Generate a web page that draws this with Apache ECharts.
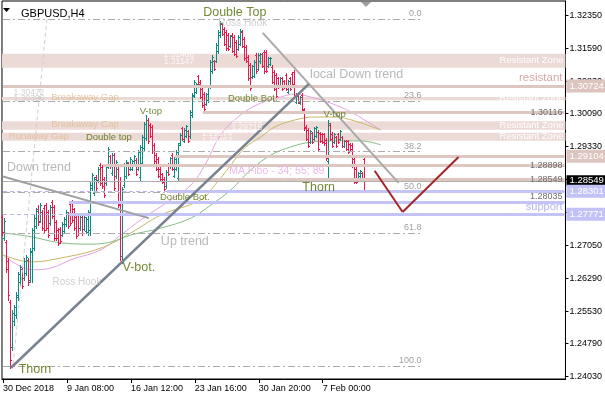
<!DOCTYPE html>
<html><head><meta charset="utf-8">
<script src="https://cdn.jsdelivr.net/npm/echarts@6/dist/echarts.min.js"></script>
<style>html,body{margin:0;padding:0;background:#fff}#c{width:605px;height:395px}</style>
</head><body><div id="c"></div>
<script>
// ---------- data ----------
const xTickIdx = [0, 32, 64, 96, 128, 160];
const xTickText = ['30 Dec 2018', '9 Jan 08:00', '16 Jan 12:00', '23 Jan 16:00', '30 Jan 20:00', '7 Feb 00:00'];
const yTicks = [1.32350, 1.31590, 1.30830, 1.30090, 1.29330, 1.28570, 1.27810, 1.27050, 1.26290, 1.25530, 1.24790, 1.24030];
const slotCount = 282; // bar slots on the time axis (chart shifted to the right)

// [open, close, low, high] per H4 bar
const ohlc = [
[1.2770,1.2735,1.2729,1.2775],[1.2722,1.2762,1.2718,1.2768],[1.2712,1.2650,1.2644,1.2718],[1.2670,1.2590,1.2579,1.2676],
[1.2575,1.2440,1.2423,1.2579],[1.2470,1.2550,1.2464,1.2556],[1.2530,1.2562,1.2522,1.2568],[1.2545,1.2590,1.2538,1.2598],
[1.2585,1.2638,1.2579,1.2644],[1.2620,1.2655,1.2614,1.2660],[1.2650,1.2612,1.2607,1.2653],[1.2630,1.2670,1.2626,1.2676],
[1.2642,1.2678,1.2637,1.2683],[1.2672,1.2620,1.2614,1.2676],[1.2625,1.2692,1.2621,1.2699],[1.2690,1.2740,1.2621,1.2745],
[1.2700,1.2768,1.2695,1.2775],[1.2750,1.2785,1.2745,1.2792],[1.2790,1.2758,1.2752,1.2798],[1.2762,1.2798,1.2759,1.2803],
[1.2782,1.2745,1.2741,1.2787],[1.2792,1.2740,1.2734,1.2798],[1.2798,1.2746,1.2741,1.2803],[1.2782,1.2730,1.2725,1.2787],
[1.2756,1.2794,1.2752,1.2798],[1.2805,1.2772,1.2768,1.2810],[1.2794,1.2722,1.2718,1.2798],[1.2760,1.2722,1.2718,1.2764],
[1.2740,1.2710,1.2706,1.2745],[1.2744,1.2715,1.2711,1.2748],[1.2730,1.2755,1.2727,1.2759],[1.2738,1.2766,1.2734,1.2771],
[1.2754,1.2782,1.2750,1.2787],[1.2778,1.2750,1.2745,1.2782],[1.2800,1.2756,1.2752,1.2805],[1.2806,1.2764,1.2759,1.2810],
[1.2788,1.2745,1.2741,1.2792],[1.2770,1.2726,1.2722,1.2775],[1.2776,1.2733,1.2729,1.2780],[1.2745,1.2770,1.2741,1.2775],
[1.2770,1.2734,1.2729,1.2775],[1.2744,1.2771,1.2741,1.2775],[1.2738,1.2767,1.2734,1.2771],[1.2735,1.2782,1.2729,1.2787],
[1.2740,1.2845,1.2729,1.2851],[1.2838,1.2868,1.2833,1.2872],[1.2826,1.2858,1.2821,1.2863],[1.2862,1.2838,1.2833,1.2867],
[1.2855,1.2882,1.2851,1.2886],[1.2890,1.2848,1.2844,1.2895],[1.2886,1.2842,1.2838,1.2890],[1.2858,1.2822,1.2817,1.2863],
[1.2848,1.2886,1.2844,1.2890],[1.2888,1.2928,1.2884,1.2932],[1.2910,1.2888,1.2884,1.2913],[1.2872,1.2914,1.2867,1.2918],
[1.2914,1.2838,1.2833,1.2918],[1.2865,1.2898,1.2861,1.2902],[1.2882,1.2798,1.2794,1.2886],[1.2800,1.2680,1.2672,1.2863],
[1.2680,1.2835,1.2665,1.2840],[1.2844,1.2890,1.2840,1.2895],[1.2866,1.2898,1.2861,1.2902],[1.2894,1.2870,1.2867,1.2897],
[1.2882,1.2905,1.2879,1.2909],[1.2882,1.2899,1.2879,1.2902],[1.2893,1.2910,1.2890,1.2913],[1.2903,1.2870,1.2867,1.2907],
[1.2882,1.2921,1.2879,1.2925],[1.2862,1.2932,1.2856,1.2937],[1.2895,1.2955,1.2890,1.2960],[1.2930,1.2984,1.2925,1.2989],
[1.2952,1.2995,1.2948,1.3006],[1.2994,1.2946,1.2941,1.2999],[1.2983,1.2958,1.2955,1.2987],[1.2978,1.2922,1.2918,1.2983],
[1.2937,1.2899,1.2895,1.2941],[1.2914,1.2882,1.2879,1.2918],[1.2905,1.2866,1.2863,1.2909],[1.2882,1.2859,1.2856,1.2886],
[1.2869,1.2852,1.2849,1.2872],[1.2859,1.2836,1.2833,1.2863],[1.2842,1.2875,1.2838,1.2879],[1.2891,1.2870,1.2867,1.2895],
[1.2887,1.2906,1.2884,1.2909],[1.2914,1.2882,1.2879,1.2918],[1.2866,1.2905,1.2863,1.2909],[1.2882,1.2921,1.2879,1.2925],
[1.2860,1.2937,1.2856,1.2941],[1.2940,1.2960,1.2937,1.2964],[1.2975,1.2951,1.2948,1.2978],[1.2946,1.2972,1.2943,1.2976],
[1.2958,1.2980,1.2955,1.2983],[1.2968,1.2946,1.2943,1.2971],[1.2957,1.3013,1.2953,1.3017],[1.3005,1.3052,1.3001,1.3056],
[1.3050,1.3082,1.3047,1.3086],[1.3059,1.3076,1.3056,1.3079],[1.3095,1.3078,1.3075,1.3098],[1.3082,1.3048,1.3045,1.3086],
[1.3066,1.3028,1.3024,1.3070],[1.3055,1.3020,1.3017,1.3058],[1.3032,1.3053,1.3029,1.3056],[1.3040,1.3071,1.3036,1.3075],
[1.3072,1.3128,1.3068,1.3132],[1.3106,1.3140,1.3102,1.3144],[1.3129,1.3112,1.3109,1.3132],[1.3131,1.3168,1.3128,1.3172],
[1.3153,1.3198,1.3149,1.3202],[1.3189,1.3218,1.3185,1.3222],[1.3215,1.3193,1.3190,1.3218],[1.3205,1.3170,1.3167,1.3208],
[1.3198,1.3159,1.3155,1.3202],[1.3191,1.3158,1.3155,1.3195],[1.3165,1.3187,1.3162,1.3190],[1.3191,1.3154,1.3151,1.3195],
[1.3186,1.3147,1.3144,1.3190],[1.3175,1.3142,1.3139,1.3179],[1.3158,1.3186,1.3155,1.3190],[1.3170,1.3200,1.3167,1.3204],
[1.3198,1.3165,1.3162,1.3202],[1.3181,1.3136,1.3132,1.3185],[1.3163,1.3131,1.3128,1.3167],[1.3140,1.3090,1.3086,1.3144],
[1.3122,1.3067,1.3063,1.3126],[1.3094,1.3118,1.3091,1.3121],[1.3096,1.3128,1.3093,1.3132],[1.3145,1.3106,1.3102,1.3149],
[1.3112,1.3145,1.3109,1.3149],[1.3129,1.3146,1.3126,1.3149],[1.3146,1.3119,1.3116,1.3149],[1.3151,1.3106,1.3102,1.3155],
[1.3151,1.3108,1.3105,1.3155],[1.3119,1.3136,1.3116,1.3139],[1.3123,1.3136,1.3121,1.3139],[1.3117,1.3082,1.3079,1.3121],
[1.3105,1.3066,1.3063,1.3109],[1.3098,1.3050,1.3047,1.3102],[1.3090,1.3071,1.3068,1.3093],[1.3073,1.3090,1.3070,1.3093],
[1.3090,1.3066,1.3063,1.3093],[1.3083,1.3071,1.3068,1.3086],[1.3098,1.3066,1.3063,1.3102],[1.3059,1.3083,1.3056,1.3086],
[1.3090,1.3066,1.3063,1.3093],[1.3101,1.3078,1.3075,1.3105],[1.3105,1.3050,1.3047,1.3109],[1.3036,1.3053,1.3033,1.3056],
[1.3049,1.3036,1.3033,1.3052],[1.3034,1.3046,1.3031,1.3049],[1.3052,1.3020,1.3017,1.3056],[1.3018,1.2975,1.2971,1.3022],
[1.2979,1.2951,1.2948,1.2983],[1.2972,1.2935,1.2932,1.2976],[1.2944,1.2968,1.2941,1.2971],[1.2963,1.2944,1.2941,1.2966],
[1.2951,1.2975,1.2948,1.2978],[1.2958,1.2977,1.2955,1.2980],[1.2967,1.2928,1.2925,1.2971],[1.2963,1.2946,1.2943,1.2966],
[1.2961,1.2944,1.2941,1.2964],[1.2961,1.2940,1.2937,1.2964],[1.2949,1.2906,1.2902,1.2953],[1.2900,1.2988,1.2856,1.2994],
[1.2983,1.2951,1.2948,1.2987],[1.2962,1.2935,1.2932,1.2966],[1.2944,1.2961,1.2941,1.2964],[1.2954,1.2935,1.2932,1.2957],
[1.2961,1.2944,1.2941,1.2964],[1.2951,1.2968,1.2948,1.2971],[1.2954,1.2935,1.2932,1.2957],[1.2935,1.2945,1.2932,1.2948],
[1.2945,1.2928,1.2925,1.2948],[1.2945,1.2921,1.2918,1.2948],[1.2938,1.2928,1.2925,1.2941],[1.2937,1.2889,1.2886,1.2941],
[1.2905,1.2852,1.2849,1.2909],[1.2882,1.2852,1.2849,1.2886],[1.2859,1.2871,1.2856,1.2874],[1.2866,1.2876,1.2863,1.2879],
[1.2871,1.2859,1.2856,1.2874],[1.2905,1.2855,1.2833,1.2909]
];

// moving averages (MA Fibo 34 / 55 / 89), read at sample bars: [barIndex, price]
const ma34 = [[0,1.2683],[15,1.2649],[24,1.2653],[34,1.2672],[49,1.2695],[59,1.2729],[69,1.2764],[84,1.2810],[94,1.2844],[101,1.2890],[109,1.2960],[119,1.3006],[129,1.3033],[139,1.3047],[146,1.3054],[154,1.3047],[164,1.3033],[174,1.3013],[181,1.2994],[189,1.2971]];
const ma55 = [[0,1.2683],[14,1.2667],[29,1.2676],[49,1.2699],[64,1.2734],[79,1.2775],[99,1.2810],[106,1.2844],[114,1.2890],[121,1.2930],[129,1.2955],[136,1.2978],[146,1.2994],[156,1.3001],[166,1.3001],[176,1.2992],[189,1.2971]];
const ma89 = [[0,1.2734],[14,1.2725],[29,1.2711],[44,1.2708],[54,1.2713],[64,1.2729],[79,1.2745],[94,1.2768],[104,1.2798],[114,1.2833],[124,1.2879],[134,1.2913],[144,1.2932],[154,1.2943],[166,1.2946],[179,1.2946],[189,1.2937]];

// resistance zones [upper, lower]
const zones = [[1.31468,1.31147],[1.30472,1.30396],[1.29915,1.29715],[1.29650,1.29462]];
// resistance lines [price, first bar index, right text]
const resistLines = [[1.30724,0,'resistant'],[1.30116,100,'1.30116'],[1.29104,86,''],[1.28898,50,'1.28898'],[1.28570,88,'1.28549']];
// support lines [price, first bar index, right text]
const supportLines = [[1.28301,82,''],[1.28035,33,'1.28035'],[1.27771,33,'support']];
const supportDashed = [1.28301,1.27771];
// price boxes on the axis [price, text, kind] (drawn in this order)
const axisBoxes = [[1.28540,'1.28549','bid'],[1.30724,'1.30724','r'],[1.29104,'1.29104','r'],[1.28301,'1.28301','s'],[1.27771,'1.27771','s']];
const bidPrice = 1.28520;
// Fibonacci retracement
const fibHigh = 1.3227, fibLow = 1.2427;
const fibLevels = [0, 23.6, 38.2, 50.0, 61.8, 100.0];
const fibEndBar = 210;
const fibAnchor = [[22,1.3227],[5,1.2427]];
// trend lines [[bar, price],[bar, price]]
const upTrend = [[4,1.2423],[153,1.3077]];
const localDownTrend = [[130,1.3195],[198,1.2849]];
const downTrend = [[0,1.2864],[73,1.2768]];
const projection = [[186,1.2877],[200,1.2782],[228,1.2909]];
// annotations [text, bar, price, kind]
const notes = [
 ['Double Top',116,1.3241,'patBig'],['Ross Hook',120,1.3218,'ross'],['local Down trend',177,1.3098,'trend'],
 ['Double Bot.',125,1.3043,'pat'],['V-top',74,1.3015,'pat'],['V-top',166,1.3008,'pat'],['Double top',53,1.2955,'pat'],
 ['Down trend',18,1.2884,'trend'],['MA Fibo - 34; 55; 89',137,1.2877,'ma'],['Thorn',158,1.2839,'patBig'],
 ['Double Bot.',91,1.2815,'pat'],['Up trend',91,1.2715,'trend'],['V-bot.',68,1.2653,'patBig'],['Ross Hook',37,1.2619,'ross'],
 ['Thorn',16,1.2418,'patBig'],
 ['Breakaway Gap',41,1.3047,'gap'],['Breakaway Gap',41,1.2985,'gap'],['Runaway Gap',18,1.2957,'gap'],
 ['1.31468',88,1.3144,'numW'],['1.31147',88,1.3128,'numW'],['1.30472',13,1.3058,'numG'],['1.30396',13,1.3043,'numG'],
 ['1.29915',122,1.2992,'numW'],['1.29715',122,1.2976,'numW'],['1.29574',107,1.2962,'numW'],['1.29462',107,1.2946,'numW']
];

// ---------- styling ----------
const FONT = 'Liberation Sans, Arial, sans-serif';
const UP = '#0a8a80', DOWN = '#e8194e';
const ZONE = '#ebdad6', RES = '#dfc7c1', SUP = '#c3c3f5';
const noteStyle = {
  patBig:{color:'#4f6c00',fontSize:12.5}, pat:{color:'#4f6c00',fontSize:9.5},
  ross:{color:'#c4c4c4',fontSize:10}, trend:{color:'#a6a6a6',fontSize:12.5},
  ma:{color:'#e7a9e7',fontSize:10.5}, gap:{color:'#e2bb93',fontSize:9.5},
  numW:{color:'#ffffff',fontSize:8.5}, numG:{color:'#c8c8c8',fontSize:8.5}
};

const categories = Array.from({length: slotCount}, (_, i) => String(i));
const barData = ohlc.map((d, i) => [i, d[0], d[1], d[2], d[3]]);
const lastBar = slotCount - 1;

const markLines = [];
// fib
fibLevels.forEach(lv => {
  const p = fibHigh - (fibHigh - fibLow) * lv / 100;
  markLines.push([{coord:[0,p], name: lv.toFixed(1),
    lineStyle:{color:'#ababab',width:1,type:[7,3,2,3]},
    label:{show:true,position:'insideEndTop',distance:1,formatter:'{b}',color:'#a0a0a0',fontSize:9,fontFamily:FONT}},
    {coord:[fibEndBar,p]}]);
});
markLines.push([{coord:fibAnchor[0],lineStyle:{color:'#cfcfcf',width:1,type:[4,3]},label:{show:false}},{coord:fibAnchor[1]}]);
// support dashed
supportDashed.forEach(p => markLines.push([{coord:[0,p],lineStyle:{color:'#b7b7ee',width:1,type:[4,3]},label:{show:false}},{coord:[lastBar,p]}]));
// resistance lines
resistLines.forEach(([p, from, t]) => markLines.push([{coord:[from,p], name:t,
  lineStyle:{color:RES,width:3,type:'solid'},
  label:{show: !!t, position: t==='resistant' ? 'insideEndTop' : 'insideEnd', distance:2, formatter:'{b}',
    color: t==='resistant' ? '#d6a7a7' : '#6e6e6e', fontSize: t==='resistant' ? 11.5 : 9, fontFamily:FONT}},
  {coord:[lastBar+0.49,p]}]));
// support lines
supportLines.forEach(([p, from, t]) => markLines.push([{coord:[from,p], name:t,
  lineStyle:{color:SUP,width:3,type:'solid'},
  label:{show: !!t, position:'insideEndTop', distance:2, formatter:'{b}',
    color: t==='support' ? '#b4b4f0' : '#6e6e6e', fontSize: t==='support' ? 11 : 9, fontFamily:FONT}},
  {coord:[lastBar+0.49,p]}]));
// bid line
markLines.push([{coord:[0,bidPrice],lineStyle:{color:'#b0b0b0',width:1,type:'solid'},label:{show:false}},{coord:[lastBar+0.49,bidPrice]}]);
// trend lines
const seg = (pts, color, width) => { for (let k = 0; k < pts.length - 1; k++) markLines.push([{coord:pts[k],lineStyle:{color,width,type:'solid'},label:{show:false}},{coord:pts[k+1]}]); };
seg(downTrend, '#a0a0a0', 2);
seg(localDownTrend, '#a9a9a9', 2);
seg(upTrend, '#78838f', 2.5);
seg(projection, '#a3262a', 2);

// axis price boxes (separate, unclipped)
const boxLines = axisBoxes.map(([p, t, k]) => [{coord:[lastBar-1,p], name:t,
  lineStyle:{width:1, color:'rgba(0,0,0,0)', type:'solid'},
  label:{show:true, position:'end', distance:2, formatter:'{b}', color:'#fff', fontSize:9.5, fontFamily:FONT,
    backgroundColor: k==='r' ? '#dcc4bf' : (k==='s' ? '#c2c2f6' : '#000'), padding: k==='bid' ? [1,4,0,3] : [2,4,1,3]}},
  {coord:[lastBar,p]}]);

const areas = zones.map(([a, b]) => [{yAxis:a, name:'Resistant Zone',
  label:{show:true, position:'insideRight', distance:2, formatter:'{b}', color:'#fff', fontSize:9.5, fontFamily:FONT}}, {yAxis:b}]);

const noteData = notes.map(([t, i, p, k]) => ({value:[i, p], label:{show:true, position:'inside', formatter:t,
  color: noteStyle[k].color, fontSize: noteStyle[k].fontSize, fontFamily:FONT}}));

const chart = echarts.init(document.getElementById('c'), null, {renderer:'canvas'});
chart.setOption({
  animation:false,
  backgroundColor:'#fff',
  title:{text:'GBPUSD,H4', left:16, top:3, textStyle:{fontSize:11, fontWeight:'normal', color:'#000', fontFamily:FONT}},
  graphic:[
    {type:'polygon', shape:{points:[[3,8],[10,8],[6.5,12]]}, style:{fill:'#000'}},
    {type:'polygon', shape:{points:[[361,2],[371,2],[366,7]]}, style:{fill:'#a0a0a0'}}
  ],
  grid:{left:1, right:39, top:1, bottom:16, show:true, borderColor:'#000', borderWidth:1, backgroundColor:'#fff'},
  xAxis:{type:'category', data:categories, boundaryGap:true,
    axisLine:{show:true, lineStyle:{color:'#000'}},
    axisTick:{show:true, alignWithLabel:true, length:4, lineStyle:{color:'#000'}, interval:(idx) => xTickIdx.includes(idx)},
    axisLabel:{show:true, interval:(idx) => xTickIdx.includes(idx), align:'left', margin:5,
      formatter:(v, idx) => xTickText[xTickIdx.indexOf(Number(v))] || '', color:'#000', fontSize:9, fontFamily:FONT},
    splitLine:{show:false}},
  yAxis:{type:'value', position:'right', min:1.23971, max:1.32684, scale:true,
    axisLine:{show:true, lineStyle:{color:'#000'}},
    axisTick:{show:true, length:3, lineStyle:{color:'#000'}, customValues:yTicks},
    axisLabel:{show:true, customValues:yTicks, formatter:(v) => v.toFixed(5), color:'#000', fontSize:9, fontFamily:FONT, margin:4},
    splitLine:{show:false}},
  series:[
    {type:'line', name:'zones', data:[], z:1, silent:true,
      markArea:{silent:true, itemStyle:{color:ZONE}, data:areas}},
    {type:'line', name:'MA34', data:ma34, smooth:0.4, symbol:'none', z:3, lineStyle:{color:'#e2a3e2', width:1}},
    {type:'line', name:'MA55', data:ma55, smooth:0.4, symbol:'none', z:3, lineStyle:{color:'#c6b864', width:1}},
    {type:'line', name:'MA89', data:ma89, smooth:0.4, symbol:'none', z:3, lineStyle:{color:'#86bd86', width:1}},
    {type:'custom', name:'bars', data:barData, z:4, encode:{x:0, y:[1,2,3,4]},
      renderItem:(params, api) => {
        const i = api.value(0);
        const o = api.value(1), c = api.value(2);
        const h = api.coord([i, api.value(4)]);
        const l = api.coord([i, api.value(3)]);
        const po = api.coord([i, o]);
        const pc = api.coord([i, c]);
        const x = Math.floor(h[0]) + 0.5;
        const col = c >= o ? UP : DOWN;
        const st = {stroke: col, lineWidth:1};
        return {type:'group', children:[
          {type:'line', shape:{x1:x, y1:Math.round(h[1]), x2:x, y2:Math.round(l[1]) + 1}, style:st},
          {type:'line', shape:{x1:x-1.5, y1:Math.round(po[1])+0.5, x2:x, y2:Math.round(po[1])+0.5}, style:st},
          {type:'line', shape:{x1:x, y1:Math.round(pc[1])+0.5, x2:x+1.5, y2:Math.round(pc[1])+0.5}, style:st}
        ]};
      }},
    {type:'line', name:'lines', data:[], z:5, silent:true,
      markLine:{silent:true, symbol:['none','none'], precision:5, data:markLines}},
    {type:'line', name:'boxes', data:[], z:7, silent:true, clip:false,
      markLine:{silent:true, symbol:['none','none'], precision:5, data:boxLines}},
    {type:'scatter', name:'notes', data:noteData, z:6, symbolSize:1, silent:true,
      itemStyle:{color:'rgba(0,0,0,0)'}}
  ]
});
</script>
</body></html>
